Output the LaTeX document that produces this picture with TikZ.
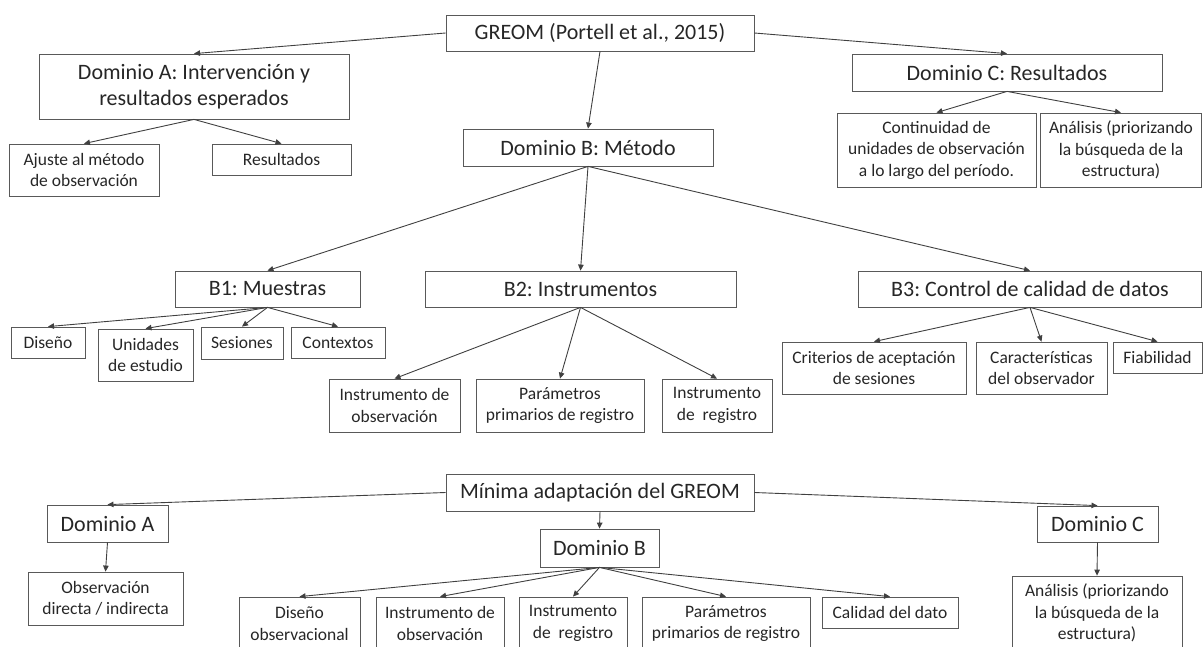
\documentclass[tikz,border=0pt]{standalone}
\usepackage{fontspec}
\setmainfont{Carlito}
\usetikzlibrary{arrows.meta}
\frenchspacing

\begin{document}
\begin{tikzpicture}[x=1pt,y=-1pt,
  caja/.style={draw=black!65, line width=0.8pt, align=center, inner sep=0pt, text=black!85, font=\fontsize{22}{26}\selectfont},
  hoja/.style={caja, font=\fontsize{17.5}{21.5}\selectfont},
  flecha/.style={draw=black!75, line width=0.9pt, -{Triangle[length=6pt,width=5.5pt]}}]
\useasboundingbox (0,0) rectangle (1203,646);
\clip (0,0) rectangle (1203,646);

% GREOM
\node[caja, minimum width=308, minimum height=36] (greom) at (600,33) {GREOM (Portell et al., 2015)};
\node[caja, minimum width=310, minimum height=65] (domA) at (194,86.5) {Dominio A: Intervención y\\resultados esperados};
\node[caja, minimum width=250, minimum height=37] (domB) at (588,147.5) {Dominio B: Método};
\node[caja, minimum width=310, minimum height=37] (domC) at (1007,72.5) {Dominio C: Resultados};

% Dominio A and C leaves
\node[hoja, minimum width=150, minimum height=52] (ajuste) at (84,170) {Ajuste al método\\de observación};
\node[hoja, minimum width=139, minimum height=31] (resA) at (281.5,159.5) {Resultados};
\node[hoja, minimum width=199, minimum height=74] (contin) at (936.5,150) {Continuidad de\\unidades de observación\\a lo largo del período.};
\node[hoja, minimum width=161, minimum height=74] (analC) at (1121,150) {Análisis (priorizando\\la búsqueda de la\\estructura)};

% B1, B2, B3
\node[caja, minimum width=185, minimum height=36] (bI) at (267.5,289) {B1: Muestras};
\node[caja, minimum width=311, minimum height=36] (bII) at (580.5,289) {B2: Instrumentos};
\node[caja, minimum width=343, minimum height=36] (bIII) at (1030,289) {B3: Control de calidad de datos};

\node[hoja, minimum width=74, minimum height=31] (diseno) at (48,342.5) {Diseño};
\node[hoja, minimum width=95, minimum height=52] (unidades) at (145.5,355) {Unidades\\de estudio};
\node[hoja, minimum width=82, minimum height=32] (sesiones) at (242,343) {Sesiones};
\node[hoja, minimum width=94, minimum height=31] (contextos) at (338,342.5) {Contextos};

\node[hoja, minimum width=131, minimum height=53] (instobs) at (394.5,405.5) {Instrumento de\\observación};
\node[hoja, minimum width=168, minimum height=53] (param) at (560,405.5) {Parámetros\\primarios de registro};
\node[hoja, minimum width=110, minimum height=53] (instreg) at (717,405.5) {Instrumento\\de~~registro};

\node[hoja, minimum width=184, minimum height=52] (criterios) at (874,368) {Criterios de aceptación\\de sesiones};
\node[hoja, minimum width=131, minimum height=52] (caract) at (1041.5,368) {Características\\del observador};
\node[hoja, minimum width=89, minimum height=31] (fiab) at (1157.5,357.5) {Fiabilidad};

% Arrows (top)
\draw[flecha] (greom.west) -- (domA.north);
\draw[flecha] (greom.south) -- (domB.north);
\draw[flecha] (greom.east) -- (domC.north);
\draw[flecha] (domA.south) -- (ajuste.north);
\draw[flecha] (domA.south) -- (resA.north);
\draw[flecha] (domC.south) -- (contin.north);
\draw[flecha] (domC.south) -- (analC.north);
\draw[flecha] (domB.south) -- (bI.north);
\draw[flecha] (domB.south) -- (bII.north);
\draw[flecha] (domB.south) -- (bIII.north);
\draw[flecha] (bI.south) -- (diseno.north);
\draw[flecha] (bI.south) -- (unidades.north);
\draw[flecha] (bI.south) -- (sesiones.north);
\draw[flecha] (bI.south) -- (contextos.north);
\draw[flecha] (bII.south) -- (instobs.north);
\draw[flecha] (bII.south) -- (param.north);
\draw[flecha] (bII.south) -- (instreg.north);
\draw[flecha] (bIII.south) -- (criterios.north);
\draw[flecha] (bIII.south) -- (caract.north);
\draw[flecha] (bIII.south) -- (fiab.north);

% Minima adaptacion
\node[caja, minimum width=308, minimum height=37] (minima) at (600,492.5) {Mínima adaptación del GREOM};
\node[caja, minimum width=121, minimum height=37] (mA) at (107.5,523.5) {Dominio A};
\node[caja, minimum width=119, minimum height=38] (mB) at (599.5,548) {Dominio B};
\node[caja, minimum width=121, minimum height=36] (mC) at (1097.5,524) {Dominio C};

\node[hoja, minimum width=155, minimum height=53] (obsdir) at (105.5,598.5) {Observación\\directa / indirecta};
\node[hoja, minimum width=170, minimum height=74] (analB) at (1097,613) {Análisis (priorizando\\la búsqueda de la\\estructura)};
\node[hoja, minimum width=121, minimum height=53] (disobs) at (299.5,623.5) {Diseño\\observacional};
\node[hoja, minimum width=128, minimum height=53] (instobsB) at (440,623.5) {Instrumento de\\observación};
\node[hoja, minimum width=108, minimum height=53] (instregB) at (573,623.5) {Instrumento\\de~~registro};
\node[hoja, minimum width=168, minimum height=53] (paramB) at (726,623.5) {Parámetros\\primarios de registro};
\node[hoja, minimum width=136, minimum height=31] (calidad) at (890,612.5) {Calidad del dato};

% Arrows (bottom)
\draw[flecha] (minima.west) -- (mA.north);
\draw[flecha] (minima.south) -- (mB.north);
\draw[flecha] (minima.east) -- (mC.north);
\draw[flecha] (mA.south) -- (obsdir.north);
\draw[flecha] (mC.south) -- (analB.north);
\draw[flecha] (mB.south) -- (disobs.north);
\draw[flecha] (mB.south) -- (instobsB.north);
\draw[flecha] (mB.south) -- (instregB.north);
\draw[flecha] (mB.south) -- (paramB.north);
\draw[flecha] (mB.south) -- (calidad.north);
\end{tikzpicture}
\end{document}
